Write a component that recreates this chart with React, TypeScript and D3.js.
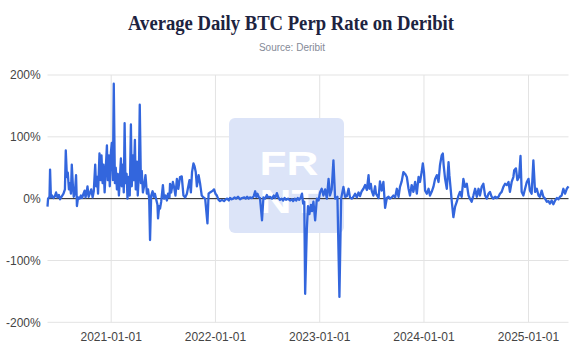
import React from "react";
import * as d3 from "d3";

const TITLE = "Average Daily BTC Perp Rate on Deribit";
const SUBTITLE = "Source: Deribit";
const START_DATE = "2020-05-23";

const Y_TICKS = [-200, -100, 0, 100, 200];
const X_TICKS = ["2021-01-01", "2022-01-01", "2023-01-01", "2024-01-01", "2025-01-01"];

// day offsets from START_DATE and average daily perp rate (%)
const DAYS_2020 = [0, 2, 7, 9, 12, 16, 21, 26, 30, 35, 40, 44, 49, 56, 61, 64, 68, 71, 75, 78, 82, 85, 89, 92, 96, 100, 103, 107, 112, 117, 121, 126, 130, 133, 137, 140, 144, 148, 153, 158, 162, 167, 170, 174, 177, 182, 186, 189, 193, 196, 200, 203, 208, 211, 215, 218, 222];
const RATES_2020 = [-13, 0, 3, 47, 2, 5, 1, 4, 10, 2, 6, -1, 3, 8, 15, 78, 35, 42, 15, 25, 8, 55, 20, 3, 10, 38, -12, 2, 0, 5, 1, 8, 13, 2, 10, 20, 3, 8, 15, 2, 12, 55, 20, 35, 8, 73, 30, 70, 25, 55, 10, 40, 86, 30, 70, 20, 75];

const DAYS_2021 = [225, 229, 232, 236, 239, 243, 246, 250, 253, 257, 260, 264, 267, 270, 273, 277, 280, 284, 288, 292, 295, 299, 302, 306, 309, 313, 316, 320, 323, 327, 330, 334, 338, 343, 348, 352, 356, 359, 363, 368, 372, 376, 380, 385, 387, 391, 394, 398, 404, 408, 413, 418, 422, 427, 429, 433, 439, 443, 448, 453, 458, 464, 470, 476, 482, 488, 497, 502, 506, 511, 515, 519, 523, 529, 534, 540, 546, 552, 560, 564, 569, 579, 583];
const RATES_2021 = [90, 30, 186, 25, 50, 15, 40, 5, 30, 65, 20, 55, 10, 122, 25, 40, 0, 35, 5, 120, 20, 70, 30, 95, 15, 60, 5, 40, 152, 25, 45, 10, 20, 38, 8, 15, 0, -67, 5, 12, 3, 8, 0, -10, -32, -12, -16, -5, 22, 0, 5, -3, 8, 2, 24, 10, 27, 19, 5, 32, 16, 35, 36, 5, 2, 8, 30, 10, 43, 57, 52, 43, 20, 38, 25, 5, 2, 0, -40, 8, 10, 13, 15];

const DAYS_2022 = [588, 593, 599, 604, 611, 618, 624, 629, 635, 639, 645, 650, 655, 660, 667, 674, 681, 689, 694, 699, 704, 709, 716, 722, 727, 731, 735, 740, 744, 751, 756, 762, 768, 772, 779, 786, 792, 797, 803, 808, 814, 820, 825, 830, 835, 842, 849, 856, 860, 866, 871, 876, 881, 887, 891, 895, 899, 902, 908, 912, 917, 922, 926, 931, 937, 943, 949];
const RATES_2022 = [8, 5, -2, -4, -2, -4, -1, 0, -3, 1, -1, 0, 2, 0, 3, -1, 1, 2, 0, 3, 0, 2, 1, 4, 12, 3, 8, 2, 1, -35, 2, 0, 6, 2, 3, 0, 5, 1, 9, 2, -2, 0, -3, 1, -2, 0, -3, -1, -4, 0, -3, 1, -2, 2, 8, -8, -5, -154, -48, -12, -25, -10, -20, -5, -35, 0, -3];

const DAYS_2023 = [954, 960, 966, 972, 978, 984, 989, 995, 1001, 1007, 1015, 1022, 1028, 1036, 1042, 1048, 1054, 1059, 1066, 1071, 1077, 1083, 1089, 1094, 1100, 1106, 1112, 1118, 1124, 1127, 1132, 1135, 1141, 1147, 1150, 1159, 1164, 1170, 1176, 1182, 1188, 1194, 1199, 1205, 1211, 1217, 1223, 1229, 1234, 1240, 1246, 1252, 1258, 1264, 1269, 1275, 1281, 1287, 1293, 1299, 1304, 1310, 1314];
const RATES_2023 = [10, 16, 5, 15, 0, 32, 5, 15, 62, 0, 3, -159, 0, 19, 3, 4, 16, 2, 0, 3, 8, 2, 10, 4, 12, 16, 22, 14, 38, 16, 24, 13, 5, 20, 8, 1, 28, 13, 27, -15, 1, 3, 0, 2, 5, 2, 16, 3, 19, 28, 43, 40, 35, 16, 5, 22, 11, 27, 8, 35, 27, 43, 57];

const DAYS_2024 = [1318, 1322, 1328, 1334, 1339, 1345, 1351, 1357, 1363, 1369, 1374, 1380, 1384, 1387, 1392, 1398, 1404, 1407, 1412, 1415, 1421, 1427, 1433, 1439, 1444, 1450, 1456, 1462, 1468, 1474, 1479, 1485, 1491, 1497, 1503, 1509, 1514, 1520, 1526, 1532, 1538, 1544, 1549, 1555, 1561, 1567, 1573, 1579, 1584, 1590, 1596, 1602, 1608, 1614, 1619, 1625, 1631, 1634, 1640, 1645, 1651, 1656, 1660, 1666, 1672, 1678];
const RATES_2024 = [43, 13, 8, 16, 5, 11, 19, 32, 38, 27, 54, 70, 73, 54, 32, 16, 59, 38, 13, -3, -30, -13, -5, 5, 11, 3, 32, 19, 24, 5, 0, -5, 5, 16, 3, 16, 5, 19, 24, 5, 0, 8, 11, 3, 0, 3, 1, 3, 8, 11, 19, 24, 22, 27, 11, 27, 35, 46, 49, 30, 35, 69, 11, 5, 16, 27];

const DAYS_2025 = [1684, 1689, 1695, 1701, 1707, 1713, 1719, 1724, 1730, 1736, 1742, 1748, 1754, 1759, 1765, 1771, 1777, 1783, 1789, 1794, 1800, 1806, 1812, 1818, 1824];
const RATES_2025 = [32, 13, 8, 62, 11, 16, 5, 3, 13, 3, 0, -5, -4, -8, -3, -9, -3, 1, -1, 3, 5, 16, 8, 16, 20];

const parse = d3.utcParse("%Y-%m-%d");
const start = parse(START_DATE) as Date;

type Pt = { date: Date; value: number };
const SEGMENTS: [number[], number[]][] = [
  [DAYS_2020, RATES_2020],
  [DAYS_2021, RATES_2021],
  [DAYS_2022, RATES_2022],
  [DAYS_2023, RATES_2023],
  [DAYS_2024, RATES_2024],
  [DAYS_2025, RATES_2025],
];
const DATA: Pt[] = SEGMENTS.flatMap(([days, rates]) =>
  days.map((d, i) => ({ date: d3.utcDay.offset(start, d), value: rates[i] }))
);

const W = 576;
const H = 357;
const PLOT = { left: 47.5, right: 568.5, top: 75, bottom: 322.3 };

export default function App() {
  const x = d3
    .scaleUtc()
    .domain(d3.extent(DATA, (d) => d.date) as [Date, Date])
    .range([PLOT.left, PLOT.right]);
  const y = d3.scaleLinear().domain([-200, 200]).range([PLOT.bottom, PLOT.top]);
  const line = d3
    .line<Pt>()
    .x((d) => x(d.date))
    .y((d) => y(d.value));

  const sans = "'Liberation Sans', Arial, sans-serif";
  return (
    <svg
      width={W}
      height={H}
      viewBox={`0 0 ${W} ${H}`}
      style={{ position: "absolute", left: 0, top: 0, background: "#fff" }}
    >
      <text
        x={291}
        y={30}
        textAnchor="middle"
        fontFamily="'Liberation Serif', 'DejaVu Serif', serif"
        fontWeight="bold"
        fontSize={20}
        fill="#1d2340"
        textLength={326}
        lengthAdjust="spacingAndGlyphs"
      >
        {TITLE}
      </text>
      <text x={292} y={51} textAnchor="middle" fontFamily={sans} fontSize={10} fill="#858a97">
        {SUBTITLE}
      </text>

      {/* gridlines */}
      {Y_TICKS.map((t) => (
        <line key={"gy" + t} x1={PLOT.left} x2={PLOT.right} y1={y(t)} y2={y(t)} stroke="#e3e3e3" strokeWidth={1} />
      ))}
      {X_TICKS.map((t) => {
        const xx = x(parse(t) as Date);
        return <line key={"gx" + t} x1={xx} x2={xx} y1={PLOT.top} y2={PLOT.bottom} stroke="#e3e3e3" strokeWidth={1} />;
      })}

      {/* watermark */}
      <g>
        <rect x={229} y={118} width={115} height={115} rx={6} fill="#dce4f8" />
        <text x={259.5} y={174.5} fontFamily={sans} fontWeight="bold" fontSize={33} fill="#ffffff" textLength={59} lengthAdjust="spacingAndGlyphs">
          FR
        </text>
        <text x={259.5} y={212.5} fontFamily={sans} fontWeight="bold" fontSize={33} fill="#ffffff" textLength={59} lengthAdjust="spacingAndGlyphs">
          NT
        </text>
      </g>

      {/* zero line */}
      <line x1={PLOT.left} x2={PLOT.right} y1={y(0)} y2={y(0)} stroke="#222" strokeWidth={1} />

      <path d={line(DATA) || ""} fill="none" stroke="#3366dd" strokeWidth={2.3} strokeLinejoin="round" />

      {/* y labels */}
      {Y_TICKS.map((t) => (
        <text key={"ly" + t} x={40.7} y={y(t)} dy="0.35em" textAnchor="end" fontFamily={sans} fontSize={12} fill="#444">
          {t + "%"}
        </text>
      ))}
      {X_TICKS.map((t) => (
        <text key={"lx" + t} x={x(parse(t) as Date)} y={340.5} textAnchor="middle" fontFamily={sans} fontSize={12} fill="#444">
          {t}
        </text>
      ))}
    </svg>
  );
}
